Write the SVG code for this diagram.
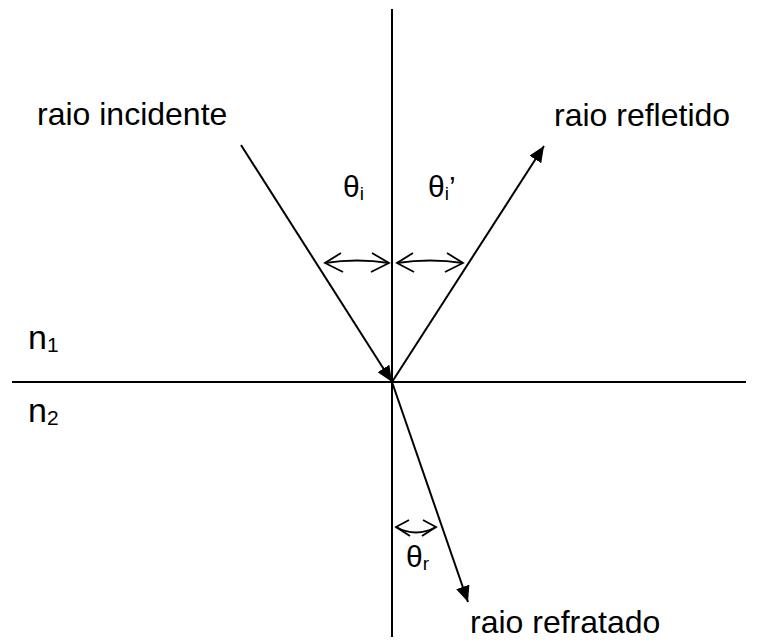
<svg xmlns="http://www.w3.org/2000/svg" width="759" height="642" viewBox="0 0 759 642">
<style>
.ln{stroke:#000;stroke-width:2;fill:none}
.ang{stroke:#000;stroke-width:1.8;fill:none;stroke-linejoin:miter}
.t{font-family:"Liberation Sans",Arial,sans-serif;fill:#000;font-size:32px}
.th{font-family:"Liberation Sans",Arial,sans-serif;fill:#000;font-size:30px}
.n{font-size:34px}
.sub{font-size:19px}
.nsub{font-size:21px}
</style>
<defs>
<marker id="ahf" viewBox="0 0 16 14" refX="16" refY="7" markerWidth="16" markerHeight="14" markerUnits="userSpaceOnUse" orient="auto">
<path d="M0,0 L16,7 L0,14 z" fill="#000"/>
</marker>
</defs>
<g id="axes">
<line class="ln" x1="392" y1="9" x2="392" y2="637"/>
<line class="ln" x1="12" y1="382" x2="746" y2="382"/>
</g>
<g id="connectors">
<line id="incident" class="ln" x1="241" y1="145" x2="392" y2="382" marker-end="url(#ahf)"/>
<line id="reflected" class="ln" x1="392" y1="382" x2="544" y2="146" marker-end="url(#ahf)"/>
<line id="refracted" class="ln" x1="392" y1="382" x2="468" y2="602" marker-end="url(#ahf)"/>
</g>
<g id="angle-i">
<path class="ang" d="M325,263 Q357,258 389,263"/>
<path class="ang" d="M341,253 L325,263 L343,272"/>
<path class="ang" d="M372,253 L389,263 L371,272"/>
</g>
<g id="angle-i2">
<path class="ang" d="M397,263 Q430,258 463,263"/>
<path class="ang" d="M413,253 L397,263 L414,272"/>
<path class="ang" d="M447,253 L463,263 L445,272"/>
</g>
<g id="angle-r">
<path class="ang" d="M396,527 Q416,538 436,527"/>
<path class="ang" d="M409,520 L396,527 L410,536"/>
<path class="ang" d="M423,520 L436,527 L422,536"/>
</g>
<g id="labels">
<text class="t" x="37" y="125">raio incidente</text>
<text class="t" x="554" y="126">raio refletido</text>
<text class="t" x="470" y="633">raio refratado</text>
<text class="th" x="343" y="197">θ<tspan class="sub" dy="3">i</tspan></text>
<text class="th" x="428" y="197">θ<tspan class="sub" dy="3">i</tspan><tspan dy="-3">’</tspan></text>
<text class="th" x="406" y="567">θ<tspan class="sub" dy="3">r</tspan></text>
<text class="t n" x="28" y="349">n<tspan class="nsub" dy="3">1</tspan></text>
<text class="t n" x="28" y="422">n<tspan class="nsub" dy="3">2</tspan></text>
</g>
</svg>
